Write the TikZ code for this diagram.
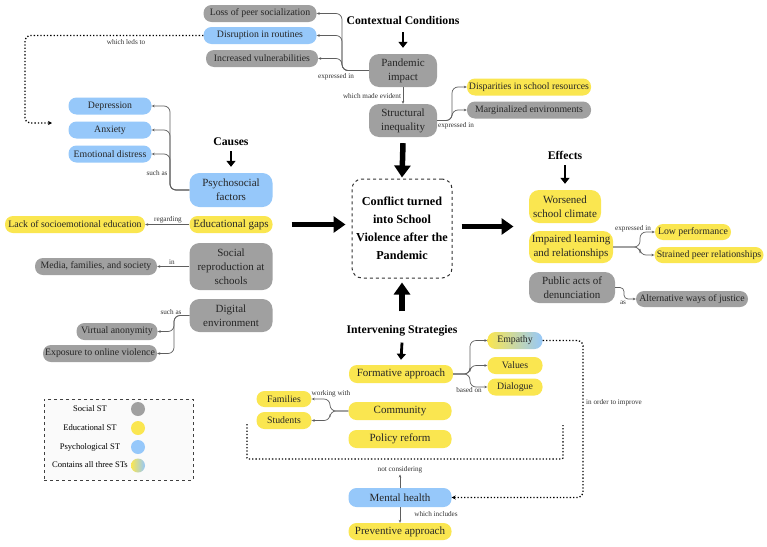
\documentclass[tikz,border=0pt]{standalone}
\usepackage{fontspec}
\setmainfont{Liberation Serif}
\usetikzlibrary{arrows.meta,calc}
\definecolor{gr}{RGB}{160,160,160}
\definecolor{ye}{RGB}{250,230,80}
\definecolor{bl}{RGB}{150,200,250}
\definecolor{ln}{RGB}{95,95,95}
\begin{document}
\begin{tikzpicture}[x=1pt,y=-1pt,
 box/.style={rounded corners=8pt, inner sep=0pt, align=center, text=black!85, font=\fontsize{11}{14}\selectfont},
 leaf/.style={box, minimum height=17pt, font=\fontsize{9.8}{12}\selectfont},
 g/.style={fill=gr}, yl/.style={fill=ye}, bu/.style={fill=bl},
 lbl/.style={font=\fontsize{7.2}{8}\selectfont, text=black!80, inner sep=0pt},
 conn/.style={draw=ln, line width=0.7pt, rounded corners=6pt, -{Stealth[length=3pt,width=2.6pt]}},
 plain/.style={draw=ln, line width=0.7pt, rounded corners=6pt},
 ttl/.style={font=\bfseries\fontsize{11.7}{14}\selectfont, inner sep=1pt},
 bigarrow/.style={line width=5.5pt, -{Triangle[length=12pt,width=16pt]}},
 smallarrow/.style={line width=2.8pt, -{Triangle[length=6pt,width=9pt]}},
 dots/.style={dotted, line width=1.3pt, rounded corners=5pt},
 legtext/.style={font=\fontsize{8.6}{10}\selectfont, inner sep=0pt},
]
\path[use as bounding box, fill=white] (0,0) rectangle (767,546);

% ---------- Contextual conditions ----------
\node[ttl] (ctx) at (403,21) {Contextual Conditions};
\node[leaf,g,minimum width=113pt] (loss) at (260,13.5) {Loss of peer socialization};
\node[leaf,bu,minimum width=113pt] (disr) at (260,35.5) {Disruption in routines};
\node[leaf,g,minimum width=112pt] (incr) at (262,58.5) {Increased vulnerabilities};
\node[box,g,minimum width=68pt,minimum height=33pt,rounded corners=10pt] (pand) at (403,70.5) {Pandemic\\impact};
\node[box,g,minimum width=68pt,minimum height=33pt,rounded corners=10pt] (struc) at (403,120.5) {Structural\\inequality};
\node[leaf,yl,minimum width=124pt] (disp) at (529,87) {Disparities in school resources};
\node[leaf,g,minimum width=124pt] (marg) at (529,110) {Marginalized environments};
\node[lbl] (l1) at (336,77) {expressed in};
\node[lbl] (l2) at (372,96) {which made evident};
\node[lbl] (l3) at (456,126) {expressed in};

\draw[smallarrow] ([yshift=-6pt]ctx.south) -- ([yshift=6pt]pand.north);
\draw[conn] (pand.west) -- (342,70.5) |- (loss.east);
\draw[conn] (pand.west) -- (342,70.5) |- (disr.east);
\draw[conn] (pand.west) -- (342,70.5) |- (incr.east);
\draw[conn] (pand.south) -- (struc.north);
\draw[conn] (struc.east) -- (452,120.5) |- (disp.west);
\draw[conn] (struc.east) -- (452,120.5) |- (marg.west);

% dotted "which leds to"
\coordinate (ledend) at (52,123);
\draw[dots,-{Stealth[length=4pt,width=4pt]}] (disr.west) -- (25,35.5) |- (ledend);
\node[lbl] (l4) at (126,42) {which leds to};

% ---------- Causes ----------
\node[ttl] (causes) at (231,142) {Causes};
\node[box,bu,minimum width=83pt,minimum height=34pt,rounded corners=10pt] (psy) at (231,190) {Psychosocial\\factors};
\node[leaf,bu,minimum width=83pt] (dep) at (110,106) {Depression};
\node[leaf,bu,minimum width=83pt] (anx) at (110,130) {Anxiety};
\node[leaf,bu,minimum width=83pt] (emo) at (110,154) {Emotional distress};
\node[lbl] (l5) at (157,173) {such as};
\draw[smallarrow] ([yshift=-4pt]causes.south) -- ([yshift=6pt]psy.north);
\draw[conn] (psy.west) -- (170,190) |- (dep.east);
\draw[conn] (psy.west) -- (170,190) |- (anx.east);
\draw[conn] (psy.west) -- (170,190) |- (emo.east);

\node[box,yl,minimum width=83pt,minimum height=17pt] (edu) at (231,224.5) {Educational gaps};
\node[leaf,yl,minimum width=140pt] (lack) at (75,224.5) {Lack of socioemotional education};
\node[lbl] (l6) at (168,220) {regarding};
\draw[conn] (edu.west) -- (lack.east);

\node[box,g,minimum width=83pt,minimum height=47pt,rounded corners=10pt] (socrep) at (231,266.5) {Social\\reproduction at\\schools};
\node[leaf,g,minimum width=122pt] (media) at (96,266.5) {Media, families, and society};
\node[lbl] (l7) at (172,262) {in};
\draw[conn] (socrep.west) -- (media.east);

\node[box,g,minimum width=83pt,minimum height=33pt,rounded corners=10pt] (dig) at (231,315.5) {Digital\\environment};
\node[leaf,g,minimum width=81pt] (virt) at (117,331.5) {Virtual anonymity};
\node[leaf,g,minimum width=114pt] (expo) at (100,353.5) {Exposure to online violence};
\node[lbl] (l8) at (171,312) {such as};
\draw[conn] (dig.west) -- (174,315.5) |- (virt.east);
\draw[conn] (dig.west) -- (174,315.5) |- (expo.east);

% ---------- Center ----------
\node[draw=black!80, dashed, line width=1pt, rounded corners=10pt, minimum width=100pt, minimum height=99pt, align=center, inner sep=0pt, font=\bfseries\fontsize{12.2}{18}\selectfont] (conf) at (402,228.5) {Conflict turned\\into School\\Violence after the\\Pandemic};
\draw[bigarrow] ([yshift=-6pt]struc.south) -- ([yshift=1pt]conf.north);
\draw[bigarrow] ([xshift=19pt]edu.east) -- ([xshift=-6pt,yshift=4pt]conf.west);
\draw[bigarrow] ([xshift=9pt,yshift=2pt]conf.east) -- ([xshift=61pt,yshift=2pt]conf.east);

% ---------- Effects ----------
\node[ttl] (eff) at (565,155) {Effects};
\node[box,yl,minimum width=72pt,minimum height=33pt,rounded corners=10pt] (wors) at (565,206.5) {Worsened\\school climate};
\node[box,yl,minimum width=84pt,minimum height=32pt,rounded corners=10pt] (imp) at (571,247) {Impaired learning\\and relationships};
\node[leaf,yl,minimum width=76pt,minimum height=16pt] (low) at (693,232) {Low performance};
\node[leaf,yl,minimum width=109pt,minimum height=16pt] (stra) at (709,255) {Strained peer relationships};
\node[lbl] (l9) at (633,229) {expressed in};
\node[box,g,minimum width=86pt,minimum height=31pt,rounded corners=10pt] (pub) at (572,287.5) {Public acts of\\denunciation};
\node[leaf,g,minimum width=112pt,minimum height=16pt] (alt) at (692,299) {Alternative ways of justice};
\node[lbl] (l10) at (623,303) {as};
\draw[smallarrow] ([yshift=-5pt]eff.south) -- ([yshift=6pt]wors.north);
\draw[conn] (imp.east) -- (640,247) |- (low.west);
\draw[conn] (imp.east) -- (640,247) |- (stra.west);
\draw[conn,rounded corners=4pt] (pub.east) -- (624,287.5) |- (alt.west);

% ---------- Intervening strategies ----------
\node[ttl] (ist) at (402,331) {Intervening Strategies};
\draw[bigarrow] ([yshift=13pt]ist.north) -- ([yshift=-4pt]conf.south);
\node[box,yl,minimum width=104pt,minimum height=18pt] (form) at (401,374) {Formative approach};
\node[leaf,minimum width=55pt,left color=ye,right color=bl] (emp) at (515,340.5) {Empathy};
\node[leaf,yl,minimum width=55pt] (val) at (515,365.5) {Values};
\node[leaf,yl,minimum width=55pt] (dia) at (515,387) {Dialogue};
\node[lbl] (l11) at (469,390) {based on};
\draw[smallarrow] ([yshift=-5pt]ist.south) -- ([yshift=5pt]form.north);
\draw[conn] (form.east) -- (470,374) |- (emp.west);
\draw[conn] (form.east) -- (470,374) |- (val.west);
\draw[conn] (form.east) -- (470,374) |- (dia.west);

\node[box,yl,minimum width=103pt,minimum height=18pt] (comm) at (400,411) {Community};
\node[leaf,yl,minimum width=55pt,minimum height=16pt] (fam) at (284,399) {Families};
\node[leaf,yl,minimum width=55pt,minimum height=17pt] (stu) at (284,420.5) {Students};
\node[lbl] (l12) at (331,394) {working with};
\draw[conn] (comm.west) -- (330,411) |- (fam.east);
\draw[conn] (comm.west) -- (330,411) |- (stu.east);

\node[box,yl,minimum width=103pt,minimum height=18pt] (pol) at (400,439) {Policy reform};

\coordinate (brA) at (247,424);
\coordinate (brB) at (563,425);
\draw[dots,rounded corners=1pt] (brA) -- (247,459) -- (563,459) -- (brB);

\node[box,bu,minimum width=103pt,minimum height=19pt] (ment) at (400,497.5) {Mental health};
\node[box,yl,minimum width=103pt,minimum height=17pt] (prev) at (400,531.5) {Preventive approach};
\node[lbl] (l13) at (400,470) {not considering};
\node[lbl] (l14) at (436,514) {which includes};
\node[lbl] (l15) at (614,403) {in order to improve};
\draw[conn] (ment.north) -- ([yshift=-1pt]l13.south);
\draw[conn] (ment.south) -- (prev.north);
\draw[dots,-{Stealth[length=4pt,width=4pt]}] (emp.east) -- (583,340.5) |- (ment.east);

% ---------- Legend ----------
\node[draw=black!75, dashed, line width=0.9pt, fill=black!2, minimum width=149pt, minimum height=81pt, inner sep=0pt] (leg) at (118.5,439.5) {};
\node[legtext] (t1) at (90,409) {Social ST};
\node[legtext] (t2) at (90,428) {Educational ST};
\node[legtext] (t3) at (90,447) {Psychological ST};
\node[legtext] (t4) at (90,465) {Contains all three STs};
\node[circle,fill=gr,minimum size=14pt,inner sep=0pt] (c1) at (138,409) {};
\node[circle,fill=ye,minimum size=14pt,inner sep=0pt] (c2) at (138,428) {};
\node[circle,fill=bl,minimum size=14pt,inner sep=0pt] (c3) at (138,447) {};
\node[circle,left color=ye,right color=bl,minimum size=14pt,inner sep=0pt] (c4) at (138,465.5) {};
\end{tikzpicture}
\end{document}
